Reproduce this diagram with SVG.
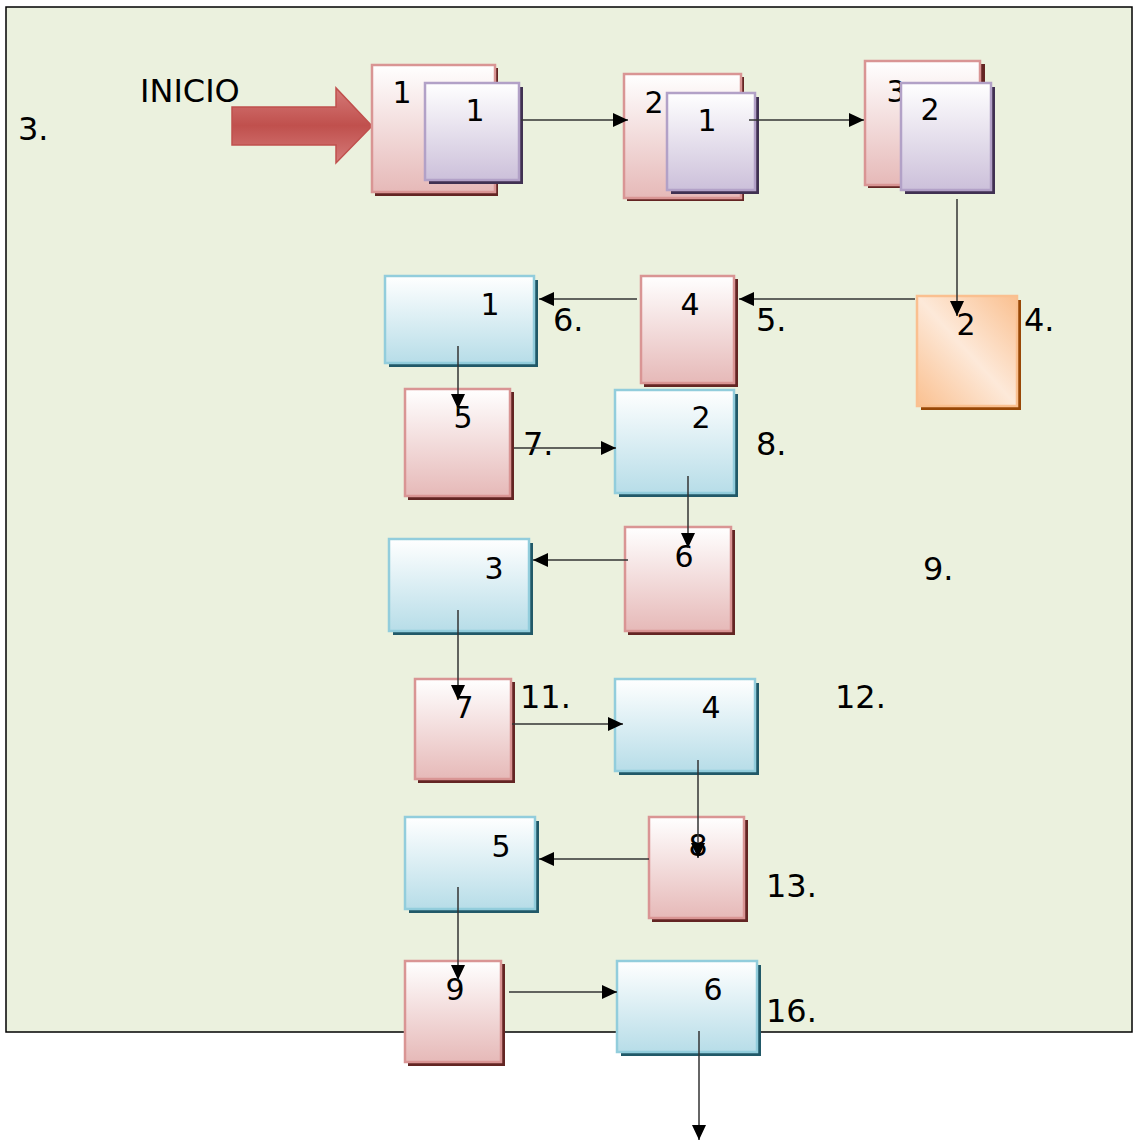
<svg xmlns="http://www.w3.org/2000/svg" width="1133" height="1142" viewBox="0 0 1133 1142">
<defs>
<linearGradient id="gPink" x1="0" y1="0" x2="0" y2="1"><stop offset="0" stop-color="#FFFFFF"/><stop offset="1" stop-color="#E6B9B8"/></linearGradient>
<linearGradient id="gBlue" x1="0" y1="0" x2="0" y2="1"><stop offset="0" stop-color="#FFFFFF"/><stop offset="1" stop-color="#B7DDE8"/></linearGradient>
<linearGradient id="gPurple" x1="0" y1="0" x2="0" y2="1"><stop offset="0" stop-color="#FFFFFF"/><stop offset="1" stop-color="#CCC0DA"/></linearGradient>
<linearGradient id="gOrange" x1="1" y1="0" x2="0" y2="1"><stop offset="0" stop-color="#FAC090"/><stop offset="0.5" stop-color="#FDE9D9"/><stop offset="1" stop-color="#FAC090"/></linearGradient>
<linearGradient id="gRed" x1="0" y1="0" x2="0" y2="1"><stop offset="0" stop-color="#D57A78"/><stop offset="0.5" stop-color="#C0504D"/><stop offset="1" stop-color="#D57A78"/></linearGradient>
<marker id="ah" markerUnits="userSpaceOnUse" markerWidth="16" markerHeight="16" viewBox="0 0 16 16" refX="15" refY="8" orient="auto"><path d="M0,1 L15,8 L0,15 Z" fill="#000"/></marker>
</defs>
<style>
.pk{fill:url(#gPink);stroke:#D99594;stroke-width:2.5}
.pks{fill:#632523}
.bl{fill:url(#gBlue);stroke:#92CDDC;stroke-width:2.5}
.bls{fill:#215968}
.pu{fill:url(#gPurple);stroke:#B2A1C7;stroke-width:2.5}
.pus{fill:#403152}
.or{fill:url(#gOrange);stroke:#FAC090;stroke-width:2.5}
.ors{fill:#984807}
.t{font-family:"DejaVu Sans",sans-serif;font-size:30px;fill:#000;text-anchor:middle}
.o{font-family:"DejaVu Sans",sans-serif;font-size:32px;fill:#000}
.c{fill:none;stroke:#333;stroke-width:1.5;marker-end:url(#ah)}
</style>
<rect x="6" y="7" width="1126" height="1025" fill="#EBF1DE" stroke="#000" stroke-width="1.5"/>
<text class="o" x="18" y="140">3.</text>
<text class="o" x="140" y="102">INICIO</text>
<g id="startArrow"><polygon points="232,107 336,107 336,88 372,126 336,163 336,145 232,145" fill="url(#gRed)" stroke="#C0504D" stroke-width="1.5"/></g>
<g id="p1"><rect class="pks" x="375" y="68" width="123" height="128"/><rect class="pk" x="372" y="65" width="123" height="127"/><text class="t" x="402" y="103">1</text></g>
<g id="u1"><rect class="pus" x="429" y="87" width="94" height="97"/><rect class="pu" x="425" y="83" width="94" height="97"/><text class="t" x="475" y="121">1</text></g>
<g id="p2"><rect class="pks" x="627" y="77" width="117" height="124"/><rect class="pk" x="624" y="74" width="117" height="124"/><text class="t" x="654" y="113">2</text></g>
<g id="u2"><rect class="pus" x="671" y="97" width="88" height="97"/><rect class="pu" x="667" y="93" width="88" height="97"/><text class="t" x="707" y="131">1</text></g>
<g id="p3"><rect class="pks" x="868" y="64" width="117" height="124"/><rect class="pk" x="865" y="61" width="115" height="124"/><text class="t" x="896" y="102">3</text></g>
<g id="u3"><rect class="pus" x="905" y="87" width="90" height="107"/><rect class="pu" x="901" y="83" width="90" height="107"/><text class="t" x="930" y="120">2</text></g>
<g id="or1"><rect class="ors" x="921" y="300" width="100" height="110"/><rect class="or" x="917" y="296" width="100" height="110"/><text class="t" x="966" y="335">2</text></g>
<text class="o" x="1024" y="331">4.</text>
<g id="p4"><rect class="pks" x="644" y="279" width="94" height="108"/><rect class="pk" x="641" y="276" width="93" height="107"/><text class="t" x="690" y="315">4</text></g>
<text class="o" x="756" y="331">5.</text>
<g id="b1"><rect class="bls" x="389" y="280" width="149" height="87"/><rect class="bl" x="385" y="276" width="149" height="87"/><text class="t" x="490" y="315">1</text></g>
<text class="o" x="553" y="331">6.</text>
<g id="p5"><rect class="pks" x="408" y="392" width="106" height="108"/><rect class="pk" x="405" y="389" width="105" height="107"/><text class="t" x="463" y="428">5</text></g>
<text class="o" x="523" y="455">7.</text>
<g id="b2"><rect class="bls" x="619" y="394" width="119" height="103"/><rect class="bl" x="615" y="390" width="119" height="103"/><text class="t" x="701" y="428">2</text></g>
<text class="o" x="756" y="455">8.</text>
<g id="p6"><rect class="pks" x="628" y="530" width="107" height="105"/><rect class="pk" x="625" y="527" width="106" height="104"/><text class="t" x="684" y="567">6</text></g>
<g id="b3"><rect class="bls" x="393" y="543" width="140" height="92"/><rect class="bl" x="389" y="539" width="140" height="92"/><text class="t" x="494" y="579">3</text></g>
<text class="o" x="923" y="580">9.</text>
<g id="p7"><rect class="pks" x="418" y="682" width="97" height="101"/><rect class="pk" x="415" y="679" width="96" height="100"/><text class="t" x="464" y="718">7</text></g>
<text class="o" x="520" y="708">11.</text>
<g id="b4"><rect class="bls" x="619" y="683" width="140" height="92"/><rect class="bl" x="615" y="679" width="140" height="92"/><text class="t" x="711" y="718">4</text></g>
<text class="o" x="835" y="708">12.</text>
<g id="p8"><rect class="pks" x="652" y="820" width="96" height="102"/><rect class="pk" x="649" y="817" width="95" height="101"/><text class="t" x="698" y="856">8</text></g>
<text class="o" x="766" y="897">13.</text>
<g id="b5"><rect class="bls" x="409" y="821" width="130" height="92"/><rect class="bl" x="405" y="817" width="130" height="92"/><text class="t" x="501" y="857">5</text></g>
<g id="p9"><rect class="pks" x="408" y="964" width="97" height="102"/><rect class="pk" x="405" y="961" width="96" height="101"/><text class="t" x="455" y="1000">9</text></g>
<g id="b6"><rect class="bls" x="621" y="965" width="140" height="91"/><rect class="bl" x="617" y="961" width="140" height="91"/><text class="t" x="713" y="1000">6</text></g>
<text class="o" x="766" y="1022">16.</text>
<g id="connectors">
<line class="c" x1="521" y1="120" x2="628" y2="120"/>
<line class="c" x1="749" y1="120" x2="864" y2="120"/>
<line class="c" x1="957" y1="199" x2="957" y2="316"/>
<line class="c" x1="915" y1="299" x2="739" y2="299"/>
<line class="c" x1="637" y1="299" x2="539" y2="299"/>
<line class="c" x1="458" y1="346" x2="458" y2="409"/>
<line class="c" x1="514" y1="448" x2="616" y2="448"/>
<line class="c" x1="688" y1="476" x2="688" y2="548"/>
<line class="c" x1="628" y1="560" x2="533" y2="560"/>
<line class="c" x1="458" y1="610" x2="458" y2="700"/>
<line class="c" x1="512" y1="724" x2="623" y2="724"/>
<line class="c" x1="698" y1="760" x2="698" y2="858"/>
<line class="c" x1="649" y1="859" x2="539" y2="859"/>
<line class="c" x1="458" y1="887" x2="458" y2="980"/>
<line class="c" x1="509" y1="992" x2="617" y2="992"/>
<line class="c" x1="699" y1="1031" x2="699" y2="1140"/>
</g>
</svg>
